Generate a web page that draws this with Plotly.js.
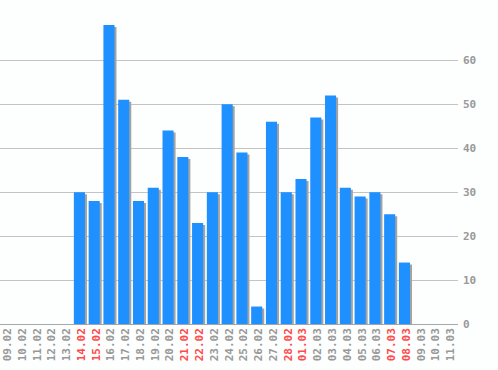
<!DOCTYPE html>
<html><head><meta charset="utf-8">
<script src="https://cdn.plot.ly/plotly-3.0.1.min.js"></script>
<style>html,body{margin:0;padding:0;background:#fdfefe;}#c{width:498px;height:370px;}</style>
</head><body><div id="c"></div>
<script>
const categories = ["09.02","10.02","11.02","12.02","13.02","14.02","15.02","16.02","17.02","18.02","19.02","20.02","21.02","22.02","23.02","24.02","25.02","26.02","27.02","28.02","01.03","02.03","03.03","04.03","05.03","06.03","07.03","08.03","09.03","10.03","11.03"];
const values = [0,0,0,0,0,30,28,68,51,28,31,44,38,23,30,50,39,4,46,30,33,47,52,31,29,30,25,14,0,0,0];
const weekends = ["14.02","15.02","21.02","22.02","28.02","01.03","07.03","08.03"];
const yTicks = [0,10,20,30,40,50,60];

const ticktext = categories.map(c => weekends.includes(c) ? '<span style="color:#ff4b4b">' + c + '</span>' : c);

const shadow = {
  type: 'bar', x: categories, y: values, base: values.map(() => -0.45),
  width: 0.75, offset: -0.5 + 2/14.77,
  marker: {color: '#a3a3a3', line: {width: 0}}, hoverinfo: 'skip'
};
const bars = {
  type: 'bar', x: categories, y: values,
  width: 0.75, offset: -0.5,
  marker: {color: '#1e90ff', line: {width: 0}}
};
const layout = {
  width: 498, height: 370,
  margin: {l: 0, r: 40, t: 0, b: 45},
  paper_bgcolor: '#fdfefe', plot_bgcolor: '#fdfefe',
  barmode: 'overlay', showlegend: false,
  font: {family: 'DejaVu Sans Mono', size: 11, color: '#999999', weight: 'bold'},
  xaxis: {
    type: 'category', tickvals: categories, ticktext: ticktext, tickangle: -90,
    showgrid: false, ticks: '', showline: false, zeroline: false,
    range: [-0.5, categories.length - 0.5],
    tickfont: {family: 'DejaVu Sans Mono', size: 11, color: '#999999', weight: 'bold'}
  },
  yaxis: {
    side: 'right', range: [-0.2, 73.7], tickvals: yTicks,
    showgrid: true, gridcolor: '#c4c4c4', gridwidth: 1,
    zeroline: true, zerolinecolor: '#a8a8a8', zerolinewidth: 1,
    ticks: '', ticklabelstandoff: 4, showline: false,
    tickfont: {family: 'DejaVu Sans Mono', size: 11, color: '#999999', weight: 'bold'}
  }
};
Plotly.newPlot('c', [shadow, bars], layout, {staticPlot: true, displayModeBar: false});
</script></body></html>
